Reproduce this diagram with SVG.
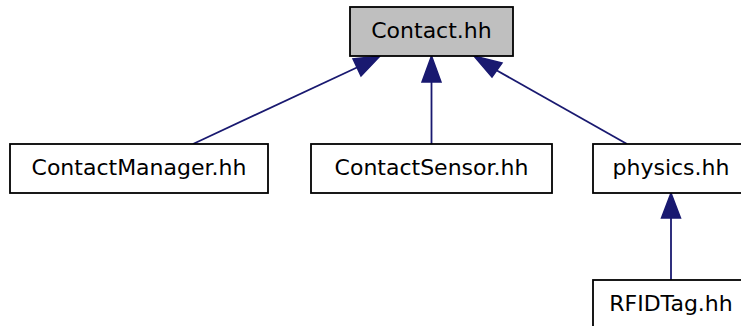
<svg xmlns="http://www.w3.org/2000/svg" width="741" height="326" viewBox="0 0 741 326">
<style>
.node rect{fill:#ffffff;stroke:#000000;stroke-width:1.8}
.node.root rect{fill:#bfbfbf}
.node text{font-family:"DejaVu Sans",sans-serif;font-size:22px;fill:#000000;text-anchor:middle}
.edge line{stroke:#191970;stroke-width:1.8}
.edge polygon{fill:#191970;stroke:#191970;stroke-width:1.5}
</style>
<rect width="741" height="326" fill="#ffffff"/>
<g id="edges">
<g class="edge"><line x1="193" y1="144" x2="358" y2="67"/><polygon points="380,56 353,59 361,76"/></g>
<g class="edge"><line x1="431.5" y1="144" x2="431.5" y2="82"/><polygon points="431.5,56 422,82 441,82"/></g>
<g class="edge"><line x1="627" y1="144" x2="496" y2="70"/><polygon points="474,56 502,63 492,77"/></g>
<g class="edge"><line x1="671" y1="280" x2="671" y2="218"/><polygon points="671,193 661.5,218 680.5,218"/></g>
</g>
<g id="node-contact" class="node root"><rect x="350" y="7" width="163" height="49"/><text x="431.5" y="38">Contact.hh</text></g>
<g id="node-contactmanager" class="node"><rect x="10" y="144" width="258" height="49"/><text x="139" y="175">ContactManager.hh</text></g>
<g id="node-contactsensor" class="node"><rect x="311" y="144" width="241" height="49"/><text x="431.5" y="175">ContactSensor.hh</text></g>
<g id="node-physics" class="node"><rect x="593" y="144" width="156" height="49"/><text x="671" y="175">physics.hh</text></g>
<g id="node-rfidtag" class="node"><rect x="593" y="280" width="156" height="49"/><text x="671" y="311">RFIDTag.hh</text></g>
</svg>
